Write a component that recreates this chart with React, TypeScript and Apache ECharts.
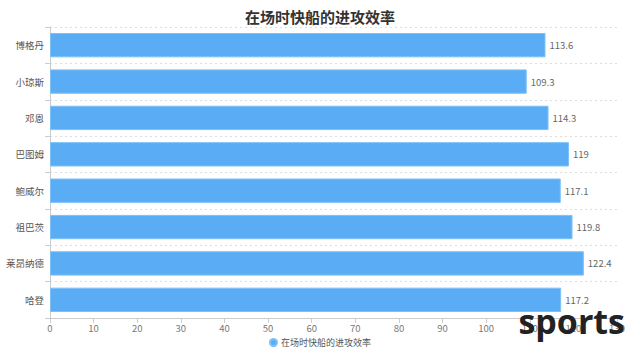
import React, { useEffect, useRef } from "react";
import * as echarts from "echarts";

const title = "在场时快船的进攻效率";
const categories = ["博格丹", "小琼斯", "邓恩", "巴图姆", "鲍威尔", "祖巴茨", "莱昂纳德", "哈登"];
const values = [113.6, 109.3, 114.3, 119, 117.1, 119.8, 122.4, 117.2];
const seriesName = "在场时快船的进攻效率";

const FONT = "'Noto Sans CJK SC', 'Noto Sans', sans-serif";

export default function App() {
  const ref = useRef<HTMLDivElement>(null);
  useEffect(() => {
    if (!ref.current) return;
    const chart = echarts.init(ref.current, undefined, { renderer: "svg" });
    chart.setOption({
      animation: false,
      textStyle: { fontFamily: FONT },
      title: {
        text: title,
        left: "center",
        top: 4,
        textStyle: { fontSize: 15, fontWeight: "bold", color: "#333", fontFamily: FONT },
      },
      legend: {
        bottom: 6,
        left: "center",
        icon: "circle",
        itemWidth: 7,
        itemHeight: 7,
        itemGap: 5,
        textStyle: { fontSize: 9, color: "#555", fontFamily: FONT, padding: [0, 0, 0, -1] },
        data: [seriesName],
      },
      grid: {
        left: 50,
        right: 23,
        top: 27,
        bottom: 40,
        containLabel: false,
        outerBoundsMode: "none",
      },
      xAxis: {
        type: "value",
        min: 0,
        max: 130,
        interval: 10,
        axisLine: { show: true, lineStyle: { color: "#ccc" } },
        axisTick: { show: true, lineStyle: { color: "#ccc" } },
        axisLabel: { fontSize: 9.5, color: "#777", margin: 5, fontFamily: FONT },
        splitLine: { show: false },
      },
      yAxis: {
        type: "category",
        inverse: true,
        data: categories,
        axisLine: { show: true, lineStyle: { color: "#ccc" } },
        axisTick: { show: true, lineStyle: { color: "#ccc" } },
        axisLabel: { fontSize: 9.5, color: "#555", margin: 6, fontFamily: FONT },
        splitLine: { show: true, lineStyle: { color: "#ddd", type: [2, 3] } },
      },
      series: [
        {
          name: seriesName,
          type: "bar",
          data: values,
          barCategoryGap: "33%",
          itemStyle: { color: "#5AADF4", borderColor: "#7CC0F7", borderWidth: 1 },
          label: {
            show: true,
            position: "right",
            fontSize: 9.5,
            color: "#666",
            distance: 4,
            fontFamily: FONT,
          },
        },
      ],
      graphic: [
        {
          type: "text",
          right: 15,
          top: 304,
          z: 100,
          style: {
            text: "sports",
            fontSize: 34,
            fontWeight: "bold",
            fontFamily: "'Open Sans', 'DejaVu Sans', sans-serif",
            fill: "#222",
          },
        },
      ],
    });
    return () => chart.dispose();
  }, []);
  return (
    <div
      ref={ref}
      style={{ position: "absolute", left: 0, top: 0, width: 640, height: 358 }}
    />
  );
}
